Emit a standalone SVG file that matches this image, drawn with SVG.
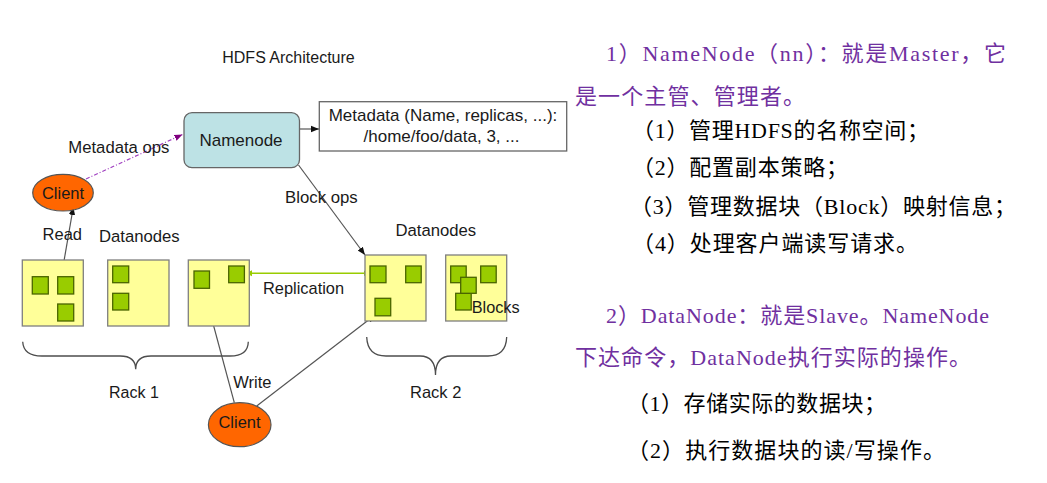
<svg xmlns="http://www.w3.org/2000/svg" width="1047" height="483" viewBox="0 0 1047 483">
<style>
.lbl{font-family:"Liberation Sans",Arial,sans-serif;font-size:17px;fill:#1a1a1a}
.mid{text-anchor:middle}
.dn{fill:#ffff99;stroke:#7f7f7f;stroke-width:1.3}
.blk{fill:#99cc00;stroke:#4a6400;stroke-width:1.3}
.cl{fill:#ff6600;stroke:#555;stroke-width:1.2}
.ln{fill:none;stroke:#555;stroke-width:1.2}
.brace{fill:none;stroke:#4d4d4d;stroke-width:1.3}
.zh{font-family:"Liberation Serif","Noto Sans CJK SC",serif;font-size:22px}
.pu{fill:#7030a0}
.bk{fill:#000}
</style>
<defs>
<marker id="ah" markerUnits="userSpaceOnUse" markerWidth="9" markerHeight="8" refX="8" refY="4" orient="auto">
<path d="M0,0.8 L8,4 L0,7.2 z" fill="#111"/>
</marker>
<marker id="ahp" markerUnits="userSpaceOnUse" markerWidth="9" markerHeight="8" refX="8" refY="4" orient="auto">
<path d="M0,0.8 L8,4 L0,7.2 z" fill="#800080"/>
</marker>
<marker id="ahg" markerUnits="userSpaceOnUse" markerWidth="8" markerHeight="8" refX="6" refY="4" orient="auto-start-reverse">
<path d="M0,1 L6,4 L0,7 z" fill="#99cc00"/>
</marker>
</defs>
<rect width="1047" height="483" fill="#fff"/>

<text class="lbl mid" x="288.5" y="63" style="font-size:16px">HDFS Architecture</text>

<g id="connectors">
<line x1="86" y1="179" x2="182.5" y2="134.5" stroke="#a040c0" stroke-width="1.2" stroke-dasharray="4,2,1,2" marker-end="url(#ahp)"/>
<line class="ln" x1="300" y1="129" x2="319" y2="129" marker-end="url(#ah)"/>
<line class="ln" x1="298.5" y1="165" x2="365" y2="255" marker-end="url(#ah)"/>
<line class="ln" x1="63.3" y1="265" x2="73.3" y2="207" marker-end="url(#ah)"/>
<line x1="246" y1="273.3" x2="369.5" y2="273.3" stroke="#99cc00" stroke-width="1.4" marker-start="url(#ahg)" marker-end="url(#ahg)"/>
<line class="ln" x1="234.3" y1="402.7" x2="204" y2="290" marker-end="url(#ah)"/>
<line class="ln" x1="256.7" y1="406" x2="375" y2="315" marker-end="url(#ah)"/>
</g>

<g id="namenode">
<rect x="184" y="112.7" width="115.5" height="55" rx="8" fill="#bde2e5" stroke="#666" stroke-width="1.3"/>
<text class="lbl mid" x="241" y="146">Namenode</text>
</g>

<g id="metadata">
<rect x="319.3" y="101.7" width="247.4" height="49.3" fill="#fff" stroke="#666" stroke-width="1.3"/>
<text class="lbl mid" x="443" y="121">Metadata (Name, replicas, ...):</text>
<text class="lbl mid" x="441.5" y="142">/home/foo/data, 3, ...</text>
</g>

<g id="client-read">
<ellipse class="cl" cx="63" cy="192.7" rx="30.3" ry="18.3"/>
<text class="lbl mid" x="63" y="198.5" style="font-size:16.5px">Client</text>
</g>

<g id="client-write">
<ellipse class="cl" cx="239.7" cy="424.7" rx="31.3" ry="22"/>
<text class="lbl mid" x="239.5" y="427.5" style="font-size:16.5px">Client</text>
</g>

<g id="labels">
<text class="lbl" x="68.3" y="153.3" style="font-size:16.7px">Metadata ops</text>
<text class="lbl" x="285" y="203" style="font-size:16.8px">Block ops</text>
<text class="lbl" x="42.6" y="239.5" style="font-size:16.5px">Read</text>
<text class="lbl" x="99" y="241.7" style="font-size:16.7px">Datanodes</text>
<text class="lbl" x="395.5" y="236" style="font-size:16.7px">Datanodes</text>
<text class="lbl" x="263" y="294" style="font-size:16.4px">Replication</text>
<text class="lbl" x="233.3" y="388.3" style="font-size:16.5px">Write</text>
<text class="lbl" x="109" y="398" style="font-size:16px">Rack 1</text>
<text class="lbl" x="410" y="398" style="font-size:16.5px">Rack 2</text>
</g>

<g id="rack1-dn1">
<rect class="dn" x="22.3" y="260" width="61" height="66"/>
<rect class="blk" x="32.3" y="276.7" width="16" height="17.3"/>
<rect class="blk" x="57.7" y="276.7" width="16" height="17.3"/>
<rect class="blk" x="57.7" y="304" width="16" height="17"/>
</g>
<g id="rack1-dn2">
<rect class="dn" x="107.7" y="260" width="61.3" height="66"/>
<rect class="blk" x="112.7" y="266" width="16" height="16.7"/>
<rect class="blk" x="112.7" y="293.3" width="16" height="16.7"/>
</g>
<g id="rack1-dn3">
<rect class="dn" x="188.3" y="260" width="61" height="66"/>
<rect class="blk" x="194" y="271" width="15.5" height="17.3"/>
<rect class="blk" x="228.7" y="266" width="15.7" height="16.7"/>
</g>
<g id="rack2-dn1">
<rect class="dn" x="365" y="255" width="61" height="66"/>
<rect class="blk" x="370" y="266" width="16" height="16.7"/>
<rect class="blk" x="405.7" y="266" width="15.5" height="16.7"/>
<rect class="blk" x="375" y="298.3" width="15.7" height="17.5"/>
</g>
<g id="rack2-dn2">
<rect class="dn" x="445.7" y="255" width="61" height="66"/>
<rect class="blk" x="450.7" y="266" width="15.5" height="16.7"/>
<rect class="blk" x="480.7" y="266" width="15.5" height="16.7"/>
<rect class="blk" x="455.7" y="293.3" width="15.5" height="16.7"/>
<rect class="blk" x="460.7" y="277.3" width="15.5" height="16"/>
<text class="lbl" x="471.7" y="312.7" style="font-size:16.3px">Blocks</text>
</g>

<g id="rack1-brace">
<path class="brace" d="M22.7,341.7 Q23.5,356 42,356 L120,356 Q135.7,356 135.7,369.3 Q135.7,356 151,356 L230,356 Q248,356 248.3,341.7"/>
</g>
<g id="rack2-brace">
<path class="brace" d="M366.7,337 Q367.5,356 386,356 L420,356 Q435.5,356 435.5,375 Q435.5,356 451,356 L488,356 Q506,356 506.7,337"/>
</g>

<g id="notes">
<text class="zh pu" x="606" y="61" textLength="400">1）NameNode（nn）：就是Master，它</text>
<text class="zh pu" x="575" y="103.5" textLength="230">是一个主管、管理者。</text>
<text class="zh bk" x="632" y="138" textLength="297">（1）管理HDFS的名称空间；</text>
<text class="zh bk" x="632" y="174.5" textLength="216">（2）配置副本策略；</text>
<text class="zh bk" x="630" y="214" textLength="386">（3）管理数据块（Block）映射信息；</text>
<text class="zh bk" x="632" y="251" textLength="286">（4）处理客户端读写请求。</text>
<text class="zh pu" x="606" y="322.5" textLength="383">2）DataNode：就是Slave。NameNode</text>
<text class="zh pu" x="575" y="364.5" textLength="396">下达命令，DataNode执行实际的操作。</text>
<text class="zh bk" x="627" y="410.5" textLength="259">（1）存储实际的数据块；</text>
<text class="zh bk" x="627" y="457.5" textLength="318">（2）执行数据块的读/写操作。</text>
</g>
</svg>
